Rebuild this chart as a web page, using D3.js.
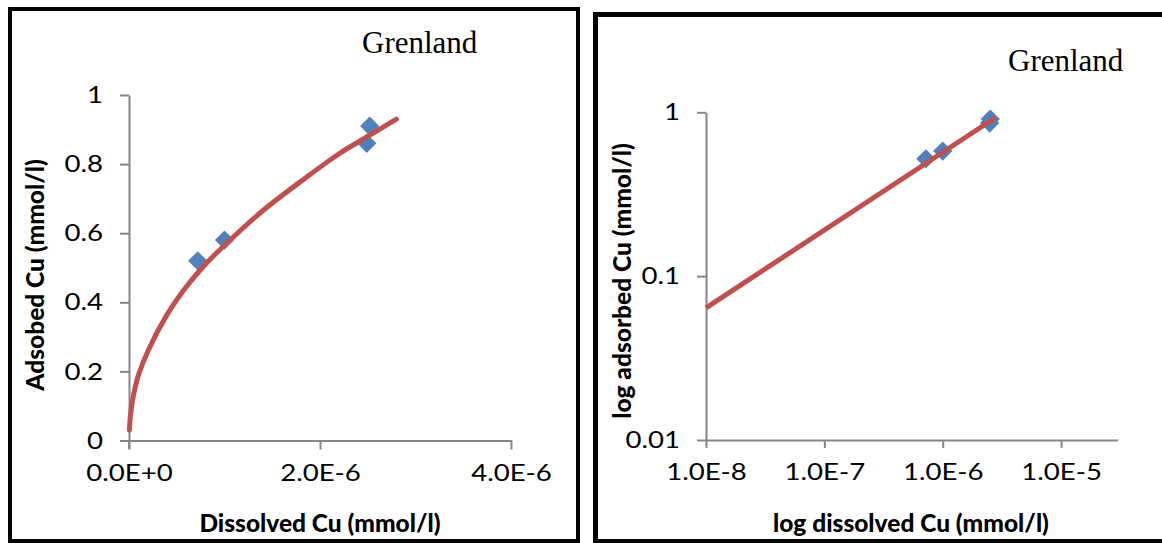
<!DOCTYPE html>
<html><head><meta charset="utf-8">
<script src="https://cdn.jsdelivr.net/npm/d3@7"></script>
<style>
html,body{margin:0;padding:0;background:#fff;}
svg{display:block;}
.tick text{font-family:Lato,"Open Sans",sans-serif;font-size:24px;fill:#000;}
.atitle{font-family:Lato,"Open Sans",sans-serif;font-size:24.5px;font-weight:900;fill:#000;}
.ttl{font-family:"Liberation Serif","Times New Roman",serif;font-size:31px;fill:#000;}
</style></head>
<body>
<svg id="c" width="1162" height="543"></svg>
<script>
// ---- data ----
const dissolvedCu = [0.72e-6, 1.0e-6, 2.49e-6, 2.52e-6];
const adsorbedCu  = [0.52, 0.58, 0.86, 0.91];
// trend line (linear chart)
const fitDissolved = [0.004e-6, 0.02e-6, 0.05e-6, 0.1e-6, 0.2e-6, 0.4e-6, 0.6e-6, 0.8e-6, 1.0e-6, 1.4e-6, 1.8e-6, 2.2e-6, 2.5e-6, 2.8e-6];
const fitAdsorbed  = [0.03, 0.085, 0.135, 0.19, 0.26, 0.365, 0.445, 0.51, 0.565, 0.665, 0.75, 0.83, 0.88, 0.93];
// trend line on log-log chart (end points)
const logFitDissolved = [1e-8, 2.8e-6];
const logFitAdsorbed  = [0.064, 0.93];
// tick labels
const linXTicks = [0, 2e-6, 4e-6];
const linXLabels = ["0.0E+0", "2.0E-6", "4.0E-6"];
const linYTicks = [0, 0.2, 0.4, 0.6, 0.8, 1];
const linYLabels = ["0", "0.2", "0.4", "0.6", "0.8", "1"];
const logXTicks = [1e-8, 1e-7, 1e-6, 1e-5];
const logXLabels = ["1.0E-8", "1.0E-7", "1.0E-6", "1.0E-5"];
const logYTicks = [0.01, 0.1, 1];
const logYLabels = ["0.01", "0.1", "1"];

const svg = d3.select("#c");
const AXC = "#868686", RED = "#C0504D", BLUE = "#4F81BD";
const SX = 1.15; // horizontal stretch of the tick label glyphs

// frames
svg.append("rect").attr("x",10).attr("y",9).attr("width",568).attr("height",532)
  .attr("fill","none").attr("stroke","#000").attr("stroke-width",4);
svg.append("rect").attr("x",595.5).attr("y",14.5).attr("width",580).attr("height",527)
  .attr("fill","none").attr("stroke","#000").attr("stroke-width",5);

function styleAxis(g){
  g.select(".domain").attr("stroke",AXC).attr("stroke-width",2);
  g.selectAll(".tick line").attr("stroke",AXC).attr("stroke-width",2);
  g.selectAll(".tick text").each(function(){
    const t = d3.select(this);
    const x0 = +(t.attr("x") || 0);
    t.attr("x", x0 / SX).attr("transform", `scale(${SX},1)`);
  });
}
const marker = d3.symbol().type(d3.symbolSquare).size(185);

// ---------- left chart ----------
{
  const x = d3.scaleLinear().domain([0,4e-6]).range([129,511]);
  const y = d3.scaleLinear().domain([0,1]).range([440.5,95]);
  const gx = svg.append("g").attr("transform","translate(0,440.5)")
    .call(d3.axisBottom(x).tickValues(linXTicks).tickFormat((d,i)=>linXLabels[i]).tickSize(9).tickSizeOuter(0).tickPadding(14));
  gx.selectAll(".tick text").attr("dy","0.75em");
  styleAxis(gx);
  const gy = svg.append("g").attr("transform","translate(129,0)")
    .call(d3.axisLeft(y).tickValues(linYTicks).tickFormat((d,i)=>linYLabels[i]).tickSize(9).tickSizeOuter(0).tickPadding(17));
  styleAxis(gy);
  svg.append("line").attr("x1",x(0)).attr("x2",x(0)).attr("y1",440).attr("y2",449).attr("stroke",AXC).attr("stroke-width",2);

  svg.selectAll(".p1").data(dissolvedCu).join("path")
    .attr("transform",(d,i)=>`translate(${x(d)},${y(adsorbedCu[i])}) rotate(45)`)
    .attr("d", marker).attr("fill",BLUE);
  const pts = fitDissolved.map((d,i)=>[x(d), y(fitAdsorbed[i])]);
  svg.append("path").attr("d", d3.line().curve(d3.curveCatmullRom)(pts))
    .attr("fill","none").attr("stroke",RED).attr("stroke-width",5).attr("stroke-linecap","round");

  svg.append("text").attr("class","atitle").attr("x",320).attr("y",532).attr("text-anchor","middle").text("Dissolved Cu (mmol/l)");
  svg.append("text").attr("class","atitle").attr("transform","translate(44,275) rotate(-90)").attr("text-anchor","middle").text("Adsobed Cu (mmol/l)");
  svg.append("text").attr("class","ttl").attr("x",362).attr("y",53).text("Grenland");
}

// ---------- right chart ----------
{
  const x = d3.scaleLog().domain([1e-8,3e-5]).range([706,1117.6]);
  const y = d3.scaleLog().domain([0.01,1]).range([440,112.3]);
  const gx = svg.append("g").attr("transform","translate(0,440)")
    .call(d3.axisBottom(x).tickValues(logXTicks).tickFormat((d,i)=>logXLabels[i]).tickSize(8).tickSizeOuter(0).tickPadding(14));
  gx.selectAll(".tick text").attr("dy","0.75em");
  styleAxis(gx);
  const gy = svg.append("g").attr("transform","translate(706,0)")
    .call(d3.axisLeft(y).tickValues(logYTicks).tickFormat((d,i)=>logYLabels[i]).tickSize(9).tickSizeOuter(0).tickPadding(17));
  styleAxis(gy);

  svg.selectAll(".p2").data(dissolvedCu).join("path")
    .attr("transform",(d,i)=>`translate(${x(d)},${y(adsorbedCu[i])}) rotate(45)`)
    .attr("d", marker).attr("fill",BLUE);
  const pts = logFitDissolved.map((d,i)=>[x(d), y(logFitAdsorbed[i])]);
  svg.append("path").attr("d", d3.line()(pts))
    .attr("fill","none").attr("stroke",RED).attr("stroke-width",5).attr("stroke-linecap","butt");

  svg.append("text").attr("class","atitle").attr("x",911).attr("y",532).attr("text-anchor","middle").text("log dissolved Cu (mmol/l)");
  svg.append("text").attr("class","atitle").attr("transform","translate(631,281) rotate(-90)").attr("text-anchor","middle").text("log adsorbed Cu (mmol/l)");
  svg.append("text").attr("class","ttl").attr("x",1008).attr("y",71).text("Grenland");
}
</script>
</body></html>
